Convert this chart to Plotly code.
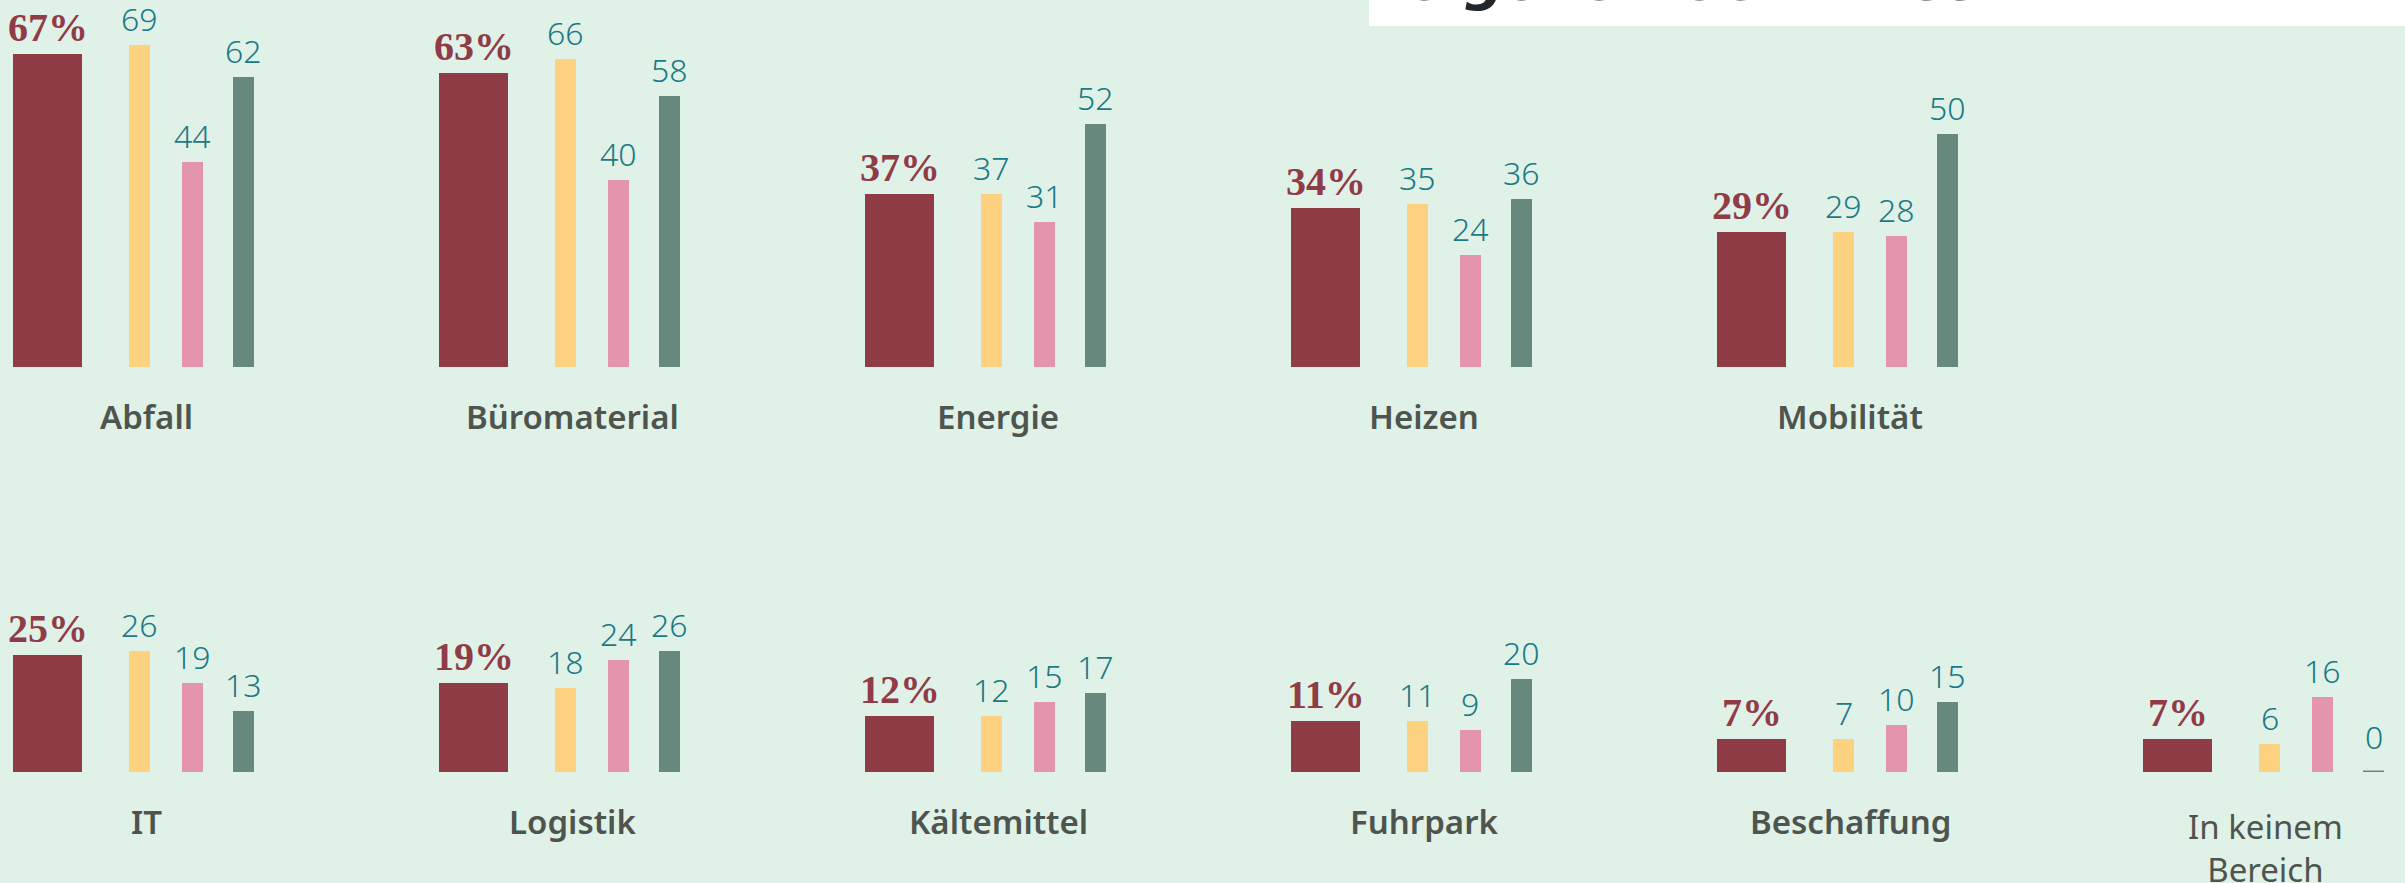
import plotly.graph_objects as go

# ---- data ----
row1_categories = ["Abfall", "Büromaterial", "Energie", "Heizen", "Mobilität"]
row1_total = [67, 63, 37, 34, 29]
row1_group_a = [69, 66, 37, 35, 29]
row1_group_b = [44, 40, 31, 24, 28]
row1_group_c = [62, 58, 52, 36, 50]

row2_categories = ["IT", "Logistik", "Kältemittel", "Fuhrpark", "Beschaffung", "In keinem<br>Bereich"]
row2_total = [25, 19, 12, 11, 7, 7]
row2_group_a = [26, 18, 12, 11, 7, 6]
row2_group_b = [19, 24, 15, 9, 10, 16]
row2_group_c = [13, 26, 17, 20, 15, 0]

title_fragment = "eigenen CO2-Ausstoß"

# ---- style ----
BG = "#e0f1e8"
C_TOTAL = "#8f3c47"
C_A = "#fcd17f"
C_B = "#e395ab"
C_C = "#67887c"
C_NUM = "#1b7a86"
C_LABEL = "#4e554f"

W, H = 2405, 883
PX_PER_GROUP = 426.0
FIRST_CENTER_PX = 47.5
x_range = [-FIRST_CENTER_PX / PX_PER_GROUP, (W - FIRST_CENTER_PX) / PX_PER_GROUP]

W_TOTAL = 69 / PX_PER_GROUP
W_THIN = 21 / PX_PER_GROUP
OFF_A = 92 / PX_PER_GROUP
OFF_B = 144.5 / PX_PER_GROUP
OFF_C = 196 / PX_PER_GROUP
OFF_LABEL = 98.5 / PX_PER_GROUP
OFF_LABEL_MULTI = 88 / PX_PER_GROUP

PX_PER_UNIT = 4.67
base1_px, top1_px = 367, 0
base2_px, top2_px = 772, 440

fig = go.Figure()
annotations = []
shapes = []

series_spec = [
    ("Gesamt", 0.0, W_TOTAL, C_TOTAL),
    ("Gruppe A", OFF_A, W_THIN, C_A),
    ("Gruppe B", OFF_B, W_THIN, C_B),
    ("Gruppe C", OFF_C, W_THIN, C_C),
]

rows = [
    ("x", "y", row1_categories, [row1_total, row1_group_a, row1_group_b, row1_group_c]),
    ("x2", "y2", row2_categories, [row2_total, row2_group_a, row2_group_b, row2_group_c]),
]

for xa, ya, cats, series in rows:
    idx = list(range(len(cats)))
    for (name, off, width, color), vals in zip(series_spec, series):
        xs = [i + off for i in idx]
        fig.add_trace(go.Bar(
            x=xs, y=vals, width=width, name=name, marker=dict(color=color, line=dict(width=0)),
            xaxis=xa, yaxis=ya, showlegend=False, hoverinfo="skip",
        ))
        for xv, v in zip(xs, vals):
            if name == "Gesamt":
                annotations.append(dict(
                    x=xv, y=v, xref=xa, yref=ya, text=f"{v}%", showarrow=False,
                    xanchor="center", yanchor="bottom", yshift=2,
                    font=dict(family="Liberation Serif", size=40, color=C_TOTAL, weight="bold"),
                ))
            else:
                annotations.append(dict(
                    x=xv, y=v, xref=xa, yref=ya, text=f"{v}", showarrow=False,
                    xanchor="center", yanchor="bottom", yshift=3 if v > 0 else 12,
                    font=dict(family="Noto Sans", size=32, color=C_NUM, weight=300),
                ))
            if v == 0:
                shapes.append(dict(
                    type="line", xref=xa, yref=ya, x0=xv - width / 2, x1=xv + width / 2,
                    y0=v, y1=v, line=dict(color=color, width=3),
                ))
    for i, c in zip(idx, cats):
        multi = "<br>" in c
        annotations.append(dict(
            x=i + (OFF_LABEL_MULTI if multi else OFF_LABEL), y=0, xref=xa, yref=ya,
            text=c, showarrow=False,
            xanchor="center", yanchor="top", yshift=-30 if multi else -25,
            font=dict(family="Noto Sans", size=33, color=C_LABEL,
                      weight=400 if multi else 600),
        ))

# title box fragment at top right
shapes.append(dict(type="rect", xref="paper", yref="paper", x0=1369 / W, x1=1.0,
                   y0=1 - 26 / H, y1=1.0, fillcolor="#ffffff", line=dict(width=0), layer="below"))
annotations.append(dict(
    x=1405 / W, y=1 - 14 / H, xref="paper", yref="paper", text=title_fragment,
    showarrow=False, xanchor="left", yanchor="bottom",
    font=dict(family="DejaVu Sans", size=56, color="#22272b", weight="bold", style="italic"),
))

d1 = [(H - base1_px) / H, (H - top1_px) / H]
d2 = [(H - base2_px) / H, (H - top2_px) / H]
r1 = [0, (base1_px - top1_px) / PX_PER_UNIT]
r2 = [0, (base2_px - top2_px) / PX_PER_UNIT]

ax_common = dict(visible=False, showgrid=False, zeroline=False, fixedrange=True)
fig.update_layout(
    width=W, height=H, margin=dict(l=0, r=0, t=0, b=0),
    paper_bgcolor=BG, plot_bgcolor="rgba(0,0,0,0)",
    barmode="overlay", bargap=0,
    xaxis=dict(range=x_range, domain=[0, 1], anchor="y", **ax_common),
    yaxis=dict(range=r1, domain=d1, anchor="x", **ax_common),
    xaxis2=dict(range=x_range, domain=[0, 1], anchor="y2", **ax_common),
    yaxis2=dict(range=r2, domain=d2, anchor="x2", **ax_common),
    annotations=annotations, shapes=shapes,
)

fig.write_html("out.html", config={"displayModeBar": False},
               post_script="document.body.style.margin='0';document.body.style.overflow='hidden';")
